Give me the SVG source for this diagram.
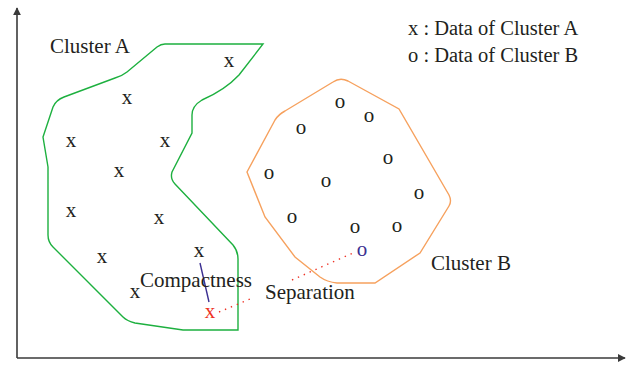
<svg xmlns="http://www.w3.org/2000/svg" width="629" height="368" viewBox="0 0 629 368">
<style>
text{font-family:"Liberation Serif","Times New Roman",serif;font-size:21px;fill:#231f20}
.m{text-anchor:middle}
.ax{stroke:#3a3a3a;stroke-width:1.6;fill:none}
</style>
<defs>
<marker id="ah" viewBox="0 0 10 10" refX="9" refY="5" markerWidth="8" markerHeight="8" markerUnits="userSpaceOnUse" orient="auto">
<path d="M0,0 L10,5 L0,10 Z" fill="#3a3a3a"/>
</marker>
</defs>
<rect width="629" height="368" fill="#fff"/>
<g id="axes">
<path class="ax" d="M17,358 L17,8" marker-end="url(#ah)"/>
<path class="ax" d="M17,358 L625,358" marker-end="url(#ah)"/>
</g>
<g id="clusterA">
<path d="M165,44 L263,44 L239,75 Q225,90 202,100 Q192,106 192,115 L192,133 L172,172 Q170,179 175,184 L233,245 Q238,251 238,259 L238,330 L183,330 L135,323 Q127,321 123,317 L53,247 Q48,242 48,235 L48,167 L43,137 L53,107 Q56,100 64,97 L115,78 Q122,76 127,72 L157,47 Q161,44 165,44 Z" fill="none" stroke="#1db03f" stroke-width="1.4"/>
<text x="50" y="53">Cluster A</text>
</g>
<g id="clusterB">
<path d="M333,82 Q340,77 348,81 L399,109 L449,195 Q452,201 449,206 L420,253 L375,283 L337,283 Q327,282 320,277 L295,257 L265,217 L247,172 L275,120 Q279,114 285,111 Z" fill="none" stroke="#f6a15e" stroke-width="1.4"/>
<text x="431" y="270">Cluster B</text>
</g>
<g id="pointsA">
<text class="m" x="229" y="67">x</text>
<text class="m" x="127" y="104">x</text>
<text class="m" x="71" y="147">x</text>
<text class="m" x="165" y="147">x</text>
<text class="m" x="119" y="177">x</text>
<text class="m" x="71" y="217">x</text>
<text class="m" x="159" y="224">x</text>
<text class="m" x="102" y="263">x</text>
<text class="m" x="199" y="257">x</text>
<text class="m" x="135" y="298">x</text>
<text class="m" x="210" y="318" style="fill:#ee3124">x</text>
</g>
<g id="pointsB">
<text class="m" x="340" y="108">o</text>
<text class="m" x="369" y="122">o</text>
<text class="m" x="301" y="134">o</text>
<text class="m" x="388" y="164">o</text>
<text class="m" x="269" y="179">o</text>
<text class="m" x="326" y="187">o</text>
<text class="m" x="419" y="199">o</text>
<text class="m" x="292" y="223">o</text>
<text class="m" x="355" y="233">o</text>
<text class="m" x="397" y="232">o</text>
<text class="m" x="362" y="256" style="fill:#3b2f91">o</text>
</g>
<g id="connectors">
<path d="M200,263 L209,302" stroke="#3b2f91" stroke-width="1.4" fill="none"/>
<path d="M219,312 L250,299 M292,280 L353,253" stroke="#ee3124" stroke-width="1.4" stroke-dasharray="1.4 5" fill="none"/>
</g>
<g id="labels">
<text x="140" y="287">Compactness</text>
<text x="265" y="299">Separation</text>
</g>
<g id="legend">
<text x="408" y="35" style="font-size:20.5px">x : Data of Cluster A</text>
<text x="408" y="62" style="font-size:20.5px">o : Data of Cluster B</text>
</g>
</svg>
